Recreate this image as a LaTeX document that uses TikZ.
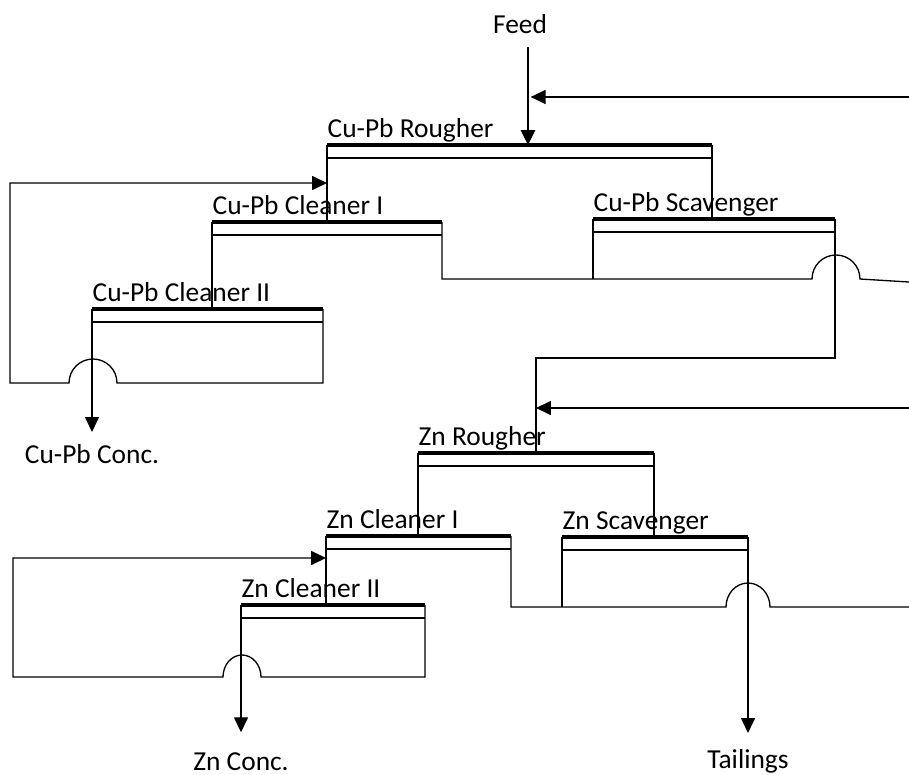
\documentclass[tikz,border=0pt]{standalone}
\usepackage{fontspec}
\setmainfont{Carlito}
\usetikzlibrary{arrows.meta,positioning}

\begin{document}
\begin{tikzpicture}[x=0.02cm,y=-0.02cm,>={Triangle[length=8.5pt,width=8pt]},
  line width=0.75pt,font=\fontsize{15.6pt}{18pt}\selectfont,
  froth/.style={line width=2.3pt},
  celllbl/.style={anchor=base west,inner sep=0pt},
  prodlbl/.style={anchor=base,inner sep=0pt}]
\useasboundingbox (0,0) rectangle (909,774);

\foreach \n/\xl/\xr/\y/\name in {cr/327/712/145/Cu-Pb Rougher,cc1/212/442/222/Cu-Pb Cleaner I,cc2/92/323/309/Cu-Pb Cleaner II,cs/593/835/219/Cu-Pb Scavenger,zr/418/654/453/Zn Rougher,zc1/326/511/536/Zn Cleaner I,zc2/241/425/605/Zn Cleaner II,zs/562/748/537/Zn Scavenger}{
  \coordinate (\n-l) at (\xl,\y);
  \coordinate (\n-r) at (\xr,\y);
  \node[celllbl] (\n) at (\xl,\y-8) {\name};
  \draw[froth] (\n-l) -- (\n-r);
  \draw (\xl,\y+13) -- (\xr,\y+13);
}

\node[prodlbl,outer sep=0.28cm] (feed) at (520,33) {Feed};
\node[prodlbl,outer sep=0.24cm] (cuconc) at (92,463) {Cu-Pb Conc.};
\node[prodlbl,outer sep=0.4cm] (znconc) at (241,770) {Zn Conc.};
\node[prodlbl,outer sep=0.32cm] (tails) at (748,768) {Tailings};

\coordinate (crin) at (528,145);
\coordinate (cc1in) at (327,183);
\coordinate (zrin) at (536,453);
\coordinate (zc1in) at (326,558);
\coordinate (rec1) at (909,97);
\coordinate (rec2) at (909,282);
\coordinate (rec3) at (909,408);
\coordinate (rec4) at (909,607);

% Cu-Pb circuit
\draw[->,line width=1.5pt] (feed.south -| crin) -- (crin);
\draw[->,shorten >=1.5pt] (rec1) -- (rec1 -| crin);
\draw (cr-l) -- (cr-l |- cc1-l);
\draw (cr-r) -- (cr-r |- cs-l);
\draw (cc1-l) -- (cc1-l |- cc2-l);
\draw[->] (cc2-r) -- (cc2-r |- 0,383) -- (117,383) arc[start angle=0,end angle=-180,radius=24] -- (10,383) |- (cc1in);
\draw[->] (cc2-l) -- (cuconc);
\draw (cc1-r) -- (cc1-r |- 0,279) -- (812,279) arc[start angle=180,end angle=360,radius=24] -- (rec2);
\draw (cs-l) -- (cs-l |- 0,279);
\draw (cs-r) -- (cs-r |- 0,358) -| (zrin);

% Zn circuit
\draw[->] (rec3) -- (rec3 -| zrin);
\draw (zr-l) -- (zr-l |- zc1-l);
\draw (zr-r) -- (zr-r |- zs-l);
\draw (zc1-l) -- (zc1-l |- zc2-l);
\draw[->] (zc2-r) -- (zc2-r |- 0,677) -- (261,677) arc[start angle=0,end angle=-180,x radius=19,y radius=22] -- (13,677) |- (zc1in);
\draw[->] (zc2-l) -- (znconc);
\draw (zc1-r) -- (zc1-r |- 0,607) -- (726,607) arc[start angle=180,end angle=360,x radius=22,y radius=24] -- (rec4);
\draw (zs-l) -- (zs-l |- 0,607);
\draw[->] (zs-r) -- (tails);
\end{tikzpicture}
\end{document}
